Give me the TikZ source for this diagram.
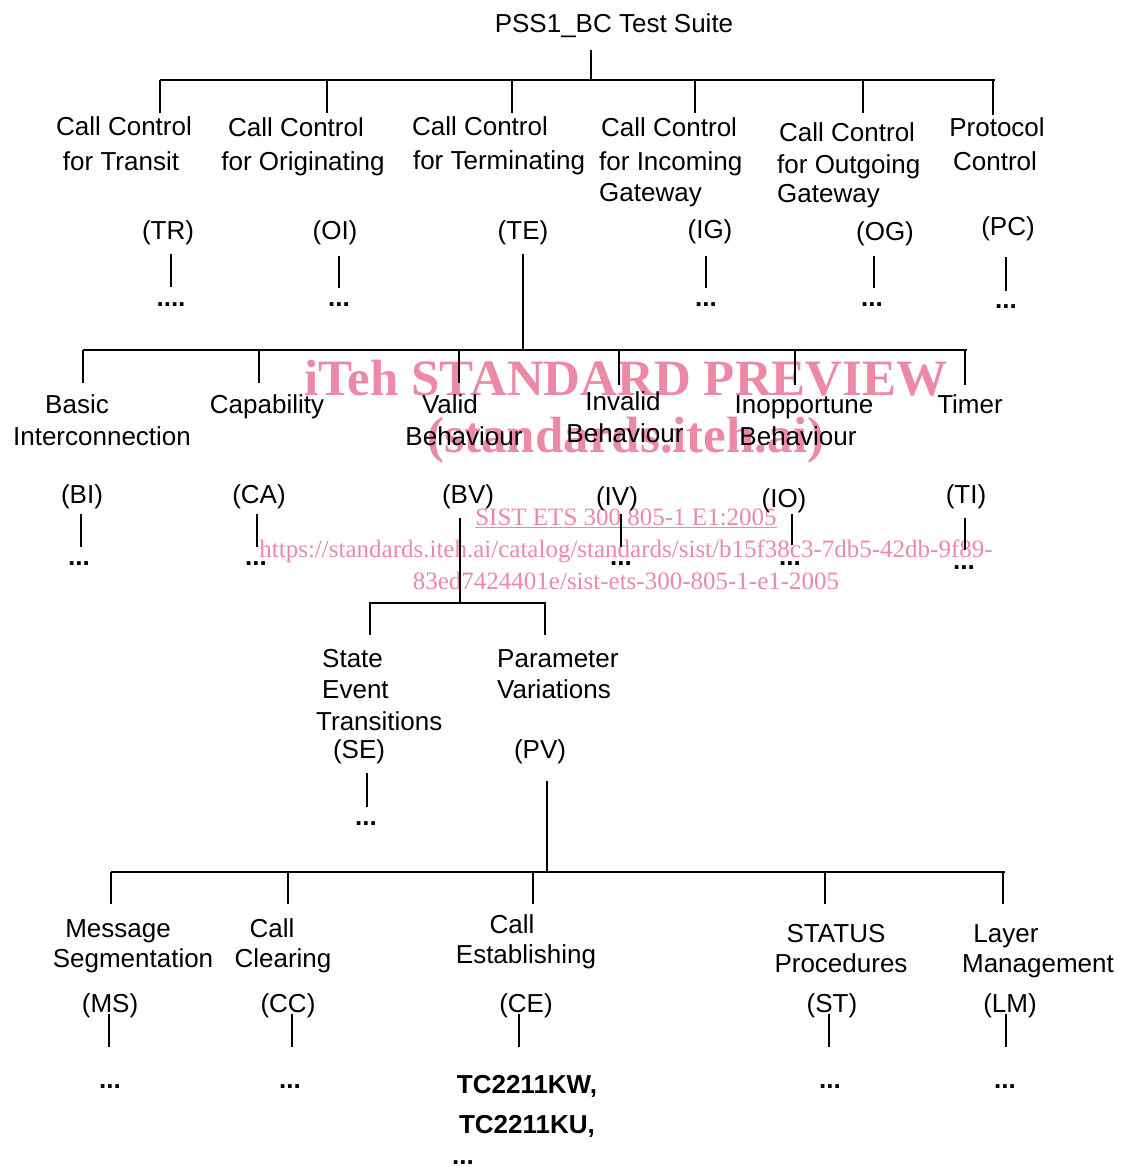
\documentclass[tikz,border=0pt]{standalone}
\usepackage{fontspec}
\setmainfont{Liberation Sans}
\newfontfamily\wmfont{Liberation Serif}
\definecolor{wmpink}{RGB}{236,138,166}
\begin{document}
\begin{tikzpicture}[x=1pt,y=-1pt,
  t/.style={anchor=base,inner sep=0pt,font=\fontsize{26}{30}\selectfont},
  tl/.style={t,anchor=base west},
  dd/.style={t,font=\fontsize{26}{30}\selectfont\bfseries},
  ln/.style={line width=2.5pt},
  wmbig/.style={anchor=base,inner sep=0pt,text=wmpink,font=\wmfont\fontsize{51}{51}\selectfont\bfseries},
  wmsmall/.style={anchor=base,inner sep=0pt,text=wmpink,font=\wmfont\fontsize{25}{25}\selectfont}]
\useasboundingbox (0,0) rectangle (1121,1167);
\fill[white] (0,0) rectangle (1121,1167);

% ---------- title and level 1 ----------
\node[t] (title) at (614,32) {PSS1\_BC Test Suite};
\coordinate (r0) at (591,50); \coordinate (r1) at (591,80);
\coordinate (b1l) at (160,80); \coordinate (b1r) at (995,80);
\draw[ln] (r0) -- (r1);
\draw[ln] (b1l) -- (b1r);
\foreach \n/\x/\y in {trk/160/113,oik/327/113,tek/512/113,igk/695/113,ogk/863/113,pck/993/115}{
  \coordinate (\n a) at (\x,80); \coordinate (\n b) at (\x,\y);
  \draw[ln] (\n a) -- (\n b);}

\node[t] (tr1) at (124,135) {Call Control};
\node[t] (tr2) at (121,170) {for Transit};
\node[t] (oi1) at (296,136) {Call Control};
\node[t] (oi2) at (303,170) {for Originating};
\node[t] (te1) at (480,135) {Call Control};
\node[t] (te2) at (499,169) {for Terminating};
\node[tl] (ig1) at (601,136) {Call Control};
\node[tl] (ig2) at (599,170) {for Incoming};
\node[tl] (ig3) at (599,201) {Gateway};
\node[tl] (og1) at (779,141) {Call Control};
\node[tl] (og2) at (777,173) {for Outgoing};
\node[tl] (og3) at (777,202) {Gateway};
\node[t] (pc1) at (997,136) {Protocol};
\node[t] (pc2) at (995,170) {Control};

\node[t] (TR) at (168,239) {(TR)};
\node[t] (OI) at (335,239) {(OI)};
\node[t] (TE) at (523,239) {(TE)};
\node[t] (IG) at (710,238) {(IG)};
\node[t] (OG) at (885,240) {(OG)};
\node[t] (PC) at (1008,235) {(PC)};

\foreach \n/\x/\ya/\yb in {trs/171/254/287,ois/339/256/288,igs/706/256/288,ogs/874/256/288,pcs/1006/257/291}{
  \coordinate (\n a) at (\x,\ya); \coordinate (\n b) at (\x,\yb);
  \draw[ln] (\n a) -- (\n b);}
\coordinate (tesa) at (523,254); \coordinate (tesb) at (523,350);
\draw[ln] (tesa) -- (tesb);

\node[dd] (trd) at (171,306) {....};
\node[dd] (oid) at (339,306) {...};
\node[dd] (igd) at (706,306) {...};
\node[dd] (ogd) at (872,306) {...};
\node[dd] (pcd) at (1006,308) {...};

% ---------- level 2 ----------
\coordinate (b2l) at (83,350); \coordinate (b2r) at (967,350);
\draw[ln] (b2l) -- (b2r);
\foreach \n/\x/\y in {bik/83/383,cak/259/383,bvk/459/383,ivk/619/385,iok/795/385,tik/965/385}{
  \coordinate (\n a) at (\x,350); \coordinate (\n b) at (\x,\y);
  \draw[ln] (\n a) -- (\n b);}

\node[t] (bi1) at (77,413) {Basic};
\node[t] (bi2) at (102,445) {Interconnection};
\node[t] (ca1) at (267,413) {Capability};
\node[t] (bv1) at (450,413) {Valid};
\node[t] (bv2) at (464,445) {Behaviour};
\node[t] (iv1) at (623,410) {Invalid};
\node[t] (iv2) at (625,442) {Behaviour};
\node[t] (io1) at (804,413) {Inopportune};
\node[t] (io2) at (798,445) {Behaviour};
\node[t] (ti1) at (970,413) {Timer};

\node[t] (BI) at (82,503) {(BI)};
\node[t] (CA) at (259,503) {(CA)};
\node[t] (BV) at (468,503) {(BV)};
\node[t] (IV) at (617,505) {(IV)};
\node[t] (IO) at (784,507) {(IO)};
\node[t] (TI) at (966,503) {(TI)};

\foreach \n/\x/\ya/\yb in {bis/81/514/547,cas/257/514/547,ivs/621/514/547,ios/792/514/545,tis/965/518/550}{
  \coordinate (\n a) at (\x,\ya); \coordinate (\n b) at (\x,\yb);
  \draw[ln] (\n a) -- (\n b);}
\coordinate (bvsa) at (460,518); \coordinate (bvsb) at (460,603);
\draw[ln] (bvsa) -- (bvsb);

\node[dd] (bid) at (79,565) {...};
\node[dd] (cad) at (256,565) {...};
\node[dd] (ivd) at (621,565) {...};
\node[dd] (iod) at (790,565) {...};
\node[dd] (tid) at (964,569) {...};

% ---------- level 3 ----------
\coordinate (b3l) at (369,603); \coordinate (b3r) at (546,603);
\draw[ln] (b3l) -- (b3r);
\coordinate (sek a) at (370,603); \coordinate (sek b) at (370,635);
\coordinate (pvk a) at (545,603); \coordinate (pvk b) at (545,635);
\draw[ln] (sek a) -- (sek b);
\draw[ln] (pvk a) -- (pvk b);

\node[tl] (se1) at (322,667) {State};
\node[tl] (se2) at (322,698) {Event};
\node[tl] (se3) at (316,730) {Transitions};
\node[tl] (pv1) at (497,667) {Parameter};
\node[tl] (pv2) at (497,698) {Variations};
\node[t] (SE) at (359,758) {(SE)};
\node[t] (PV) at (540,758) {(PV)};

\coordinate (sesa) at (367,773); \coordinate (sesb) at (367,807);
\draw[ln] (sesa) -- (sesb);
\coordinate (pvsa) at (547,781); \coordinate (pvsb) at (547,872);
\draw[ln] (pvsa) -- (pvsb);
\node[dd] (sed) at (366,825) {...};

% ---------- level 4 ----------
\coordinate (b4l) at (111,872); \coordinate (b4r) at (1005,872);
\draw[ln] (b4l) -- (b4r);
\foreach \n/\x in {msk/111,cck/288,cek/533,stk/825,lmk/1003}{
  \coordinate (\n a) at (\x,872); \coordinate (\n b) at (\x,904);
  \draw[ln] (\n a) -- (\n b);}

\node[t] (ms1) at (118,937) {Message};
\node[t] (ms2) at (133,967) {Segmentation};
\node[t] (cc1) at (272,937) {Call};
\node[t] (cc2) at (283,967) {Clearing};
\node[t] (ce1) at (512,933) {Call};
\node[t] (ce2) at (526,963) {Establishing};
\node[t] (st1) at (836,942) {STATUS};
\node[t] (st2) at (841,972) {Procedures};
\node[t] (lm1) at (1006,942) {Layer};
\node[t] (lm2) at (1038,972) {Management};

\node[t] (MS) at (110,1012) {(MS)};
\node[t] (CC) at (288,1012) {(CC)};
\node[t] (CE) at (526,1012) {(CE)};
\node[t] (ST) at (832,1012) {(ST)};
\node[t] (LM) at (1010,1012) {(LM)};

\foreach \n/\x in {mss/109,ccs/292,ces/519,sts/829,lms/1006}{
  \coordinate (\n a) at (\x,1014); \coordinate (\n b) at (\x,1047);
  \draw[ln] (\n a) -- (\n b);}

\node[dd] (msd) at (110,1088) {...};
\node[dd] (ccd) at (290,1088) {...};
\node[dd] (std) at (830,1088) {...};
\node[dd] (lmd) at (1005,1088) {...};
\node[dd] (tc1) at (527,1093) {TC2211KW,};
\node[dd] (tc2) at (527,1133) {TC2211KU,};
\node[dd] (tc3) at (463,1164) {...};

% ---------- watermark ----------
\begin{scope}[blend mode=multiply]
\node[wmbig] (wm1) at (626,395) {iTeh STANDARD PREVIEW};
\node[wmbig] (wm2) at (626,452) {(standards.iteh.ai)};
\node[wmsmall] (wm3) at (626,525) {\underline{SIST ETS 300 805-1 E1:2005}};
\node[wmsmall] (wm4) at (626,557) {https://standards.iteh.ai/catalog/standards/sist/b15f38c3-7db5-42db-9f89-};
\node[wmsmall] (wm5) at (626,589) {83ed7424401e/sist-ets-300-805-1-e1-2005};
\end{scope}
\end{tikzpicture}
\end{document}
